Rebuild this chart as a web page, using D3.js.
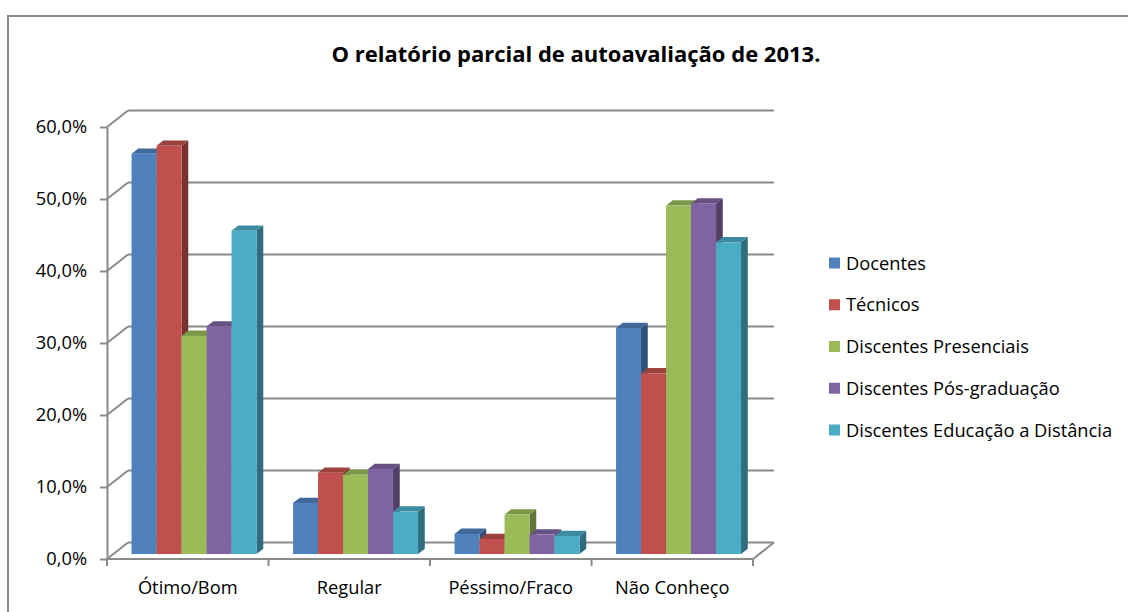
<!DOCTYPE html>
<html>
<head>
<meta charset="utf-8">
<script src="https://cdn.jsdelivr.net/npm/d3@7.9.0/dist/d3.min.js"></script>
<style>
  body { margin: 0; background: #fff; }
  svg { display: block; font-family: 'Open Sans', Lato, sans-serif; }
</style>
</head>
<body>
<svg id="chart" width="1128" height="612"></svg>
<script>
// Data (percent)
const categories = ['Ótimo/Bom', 'Regular', 'Péssimo/Fraco', 'Não Conheço'];
const seriesNames = ['Docentes', 'Técnicos', 'Discentes Presenciais', 'Discentes Pós-graduação', 'Discentes Educação a Distância'];
const docentes = [55.6, 7.1, 2.8, 31.4];
const tecnicos = [56.7, 11.3, 2.1, 25.1];
const presenciais = [30.3, 11.0, 5.5, 48.4];
const posGraduacao = [31.6, 11.8, 2.7, 48.7];
const distancia = [44.9, 5.9, 2.5, 43.3];
const yTicks = [0, 10, 20, 30, 40, 50, 60];
const colorList = ['#4F81BD', '#C0504D', '#9BBB59', '#8064A2', '#4BACC6'];

const seriesValues = [docentes, tecnicos, presenciais, posGraduacao, distancia];

const svg = d3.select('#chart');
const gray = '#8a8a8a';
const fontSize = 18.3;

// outer chart border (right/bottom edges fall outside the picture)
svg.append('rect')
  .attr('x', 8).attr('y', 16)
  .attr('width', 1300).attr('height', 800)
  .attr('fill', 'none')
  .attr('stroke', gray)
  .attr('stroke-width', 2);

// title
svg.append('text')
  .attr('x', 576).attr('y', 62)
  .attr('text-anchor', 'middle')
  .attr('font-weight', 'bold')
  .attr('font-size', 22)
  .text('O relatório parcial de autoavaliação de 2013.');

// scales
const left = 107, right = 753;
const DX = 21, DY = -16.5;      // full depth of the 3D box
const z0 = 0.3, z1 = 0.62;      // depth occupied by the bars

let y = d3.scaleLinear().domain([0, 60]).range([559, 127]);
let x0 = d3.scaleBand().domain(categories).range([left, right]).padding(0);
let x1 = d3.scaleBand().domain(seriesNames)
  .range([0, x0.bandwidth()])
  .paddingInner(0).paddingOuter(0.73);
let colors = d3.scaleOrdinal().domain(seriesNames).range(colorList);

const grid = svg.append('g')
  .attr('fill', 'none')
  .attr('stroke', gray)
  .attr('stroke-width', 2);

// back wall gridlines + left wall diagonals
yTicks.forEach(t => {
  grid.append('line')
    .attr('x1', left + DX).attr('x2', right + DX)
    .attr('y1', y(t) + DY).attr('y2', y(t) + DY);
  grid.append('line')
    .attr('x1', left).attr('x2', left + DX)
    .attr('y1', y(t)).attr('y2', y(t) + DY);
});

// floor
grid.append('path')
  .attr('d', `M${left},${y(0)}L${right},${y(0)}L${right + DX},${y(0) + DY}`);

// category tick marks at band boundaries
x0.domain().concat(['end']).forEach((c, i) => {
  let xx = left + i * x0.step();
  grid.append('line')
    .attr('x1', xx).attr('x2', xx)
    .attr('y1', y(0)).attr('y2', y(0) + 7);
});

// front value axis
let yAxis = d3.axisLeft(y)
  .tickValues(yTicks)
  .tickSize(7)
  .tickSizeOuter(0)
  .tickPadding(13)
  .tickFormat(d => d.toFixed(1).replace('.', ',') + '%');

let yAxisG = svg.append('g')
  .attr('transform', `translate(${left},0)`)
  .call(yAxis);
yAxisG.selectAll('path, line').attr('stroke', gray).attr('stroke-width', 2);
yAxisG.selectAll('text')
  .attr('font-family', "'Open Sans', sans-serif")
  .attr('font-size', fontSize)
  .attr('fill', '#000');

// category labels
svg.append('g').selectAll('text')
  .data(categories)
  .join('text')
  .attr('x', d => x0(d) + x0.bandwidth() / 2)
  .attr('y', 594)
  .attr('text-anchor', 'middle')
  .attr('font-size', fontSize)
  .text(d => d);

// 3D bars: front, top and side faces
const bars = svg.append('g');
categories.forEach((cat, ci) => {
  seriesNames.forEach((s, si) => {
    let v = seriesValues[si][ci];
    let xl = x0(cat) + x1(s) + z0 * DX;
    let xr = xl + x1.bandwidth();
    let yb = y(0) + z0 * DY;
    let yt = y(v) + z0 * DY;
    let ddx = (z1 - z0) * DX, ddy = (z1 - z0) * DY;
    let c = d3.color(colors(s));
    let g = bars.append('g');
    g.append('path')
      .attr('d', `M${xr},${yt}L${xr + ddx},${yt + ddy}L${xr + ddx},${yb + ddy}L${xr},${yb}Z`)
      .attr('fill', c.darker(1.3));
    g.append('path')
      .attr('d', `M${xl},${yt}L${xl + ddx},${yt + ddy}L${xr + ddx},${yt + ddy}L${xr},${yt}Z`)
      .attr('fill', c.darker(0.6));
    g.append('rect')
      .attr('x', xl).attr('y', yt)
      .attr('width', x1.bandwidth())
      .attr('height', yb - yt)
      .attr('fill', c);
  });
});

// legend
let legend = svg.append('g');
seriesNames.forEach((s, i) => {
  let ly = 263 + i * 41.75;
  legend.append('rect')
    .attr('x', 829).attr('y', ly - 5.5)
    .attr('width', 11).attr('height', 11)
    .attr('fill', colors(s));
  legend.append('text')
    .attr('x', 846).attr('y', ly + 6.5)
    .attr('font-size', fontSize)
    .text(s);
});
</script>
</body>
</html>
